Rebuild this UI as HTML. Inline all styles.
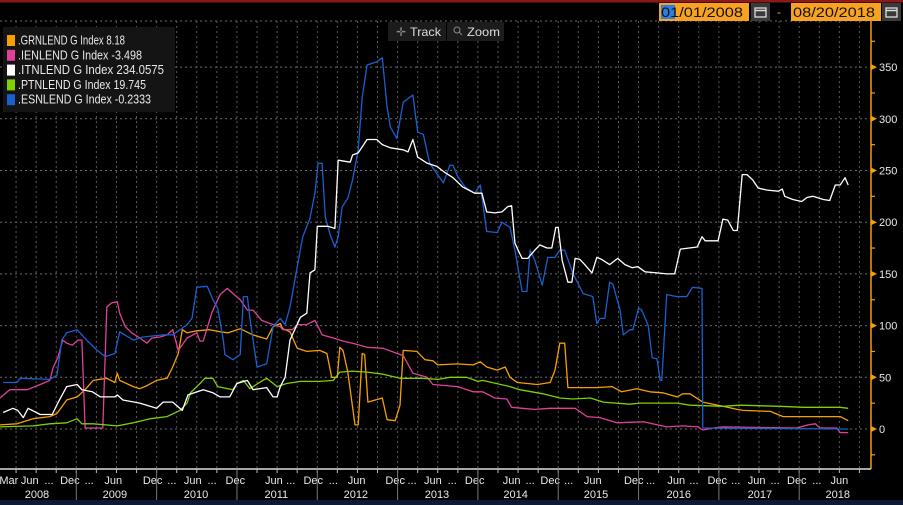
<!DOCTYPE html>
<html><head><meta charset="utf-8">
<style>
html,body{margin:0;padding:0;background:#000;}
svg{display:block;font-family:"Liberation Sans",sans-serif;}
</style></head>
<body>
<svg id="chart" width="903" height="505" viewBox="0 0 903 505" xmlns="http://www.w3.org/2000/svg">
<rect width="903" height="505" fill="#000"/>
<rect x="0" y="0" width="903" height="2.5" fill="#8a1a1a"/>
<g id="grid"></g>
<g id="series"></g>
<g id="axes"></g>
<!-- date range -->
<g>
<rect x="659" y="3" width="90" height="18" fill="#f8a223"/>
<rect x="661" y="5" width="14" height="14" fill="#2a7fe0"/>
<text x="661" y="17" font-size="14" fill="#111" textLength="82" lengthAdjust="spacingAndGlyphs">01/01/2008</text>
</g>
<g>
<rect x="751" y="3" width="19" height="18" fill="#3a3a3a"/>
<rect x="755" y="8" width="11" height="9" fill="none" stroke="#ddd" stroke-width="1.3"/>
<line x1="755" y1="10.5" x2="766" y2="10.5" stroke="#ddd" stroke-width="1.5"/>
</g>
<text x="777" y="16" font-size="12" fill="#f8a223">-</text>
<g>
<rect x="791" y="3" width="90" height="18" fill="#f8a223"/>
<text x="793" y="17" font-size="14" fill="#111" textLength="82" lengthAdjust="spacingAndGlyphs">08/20/2018</text>
</g>
<g>
<rect x="882" y="3" width="19" height="18" fill="#3a3a3a"/>
<rect x="886" y="8" width="11" height="9" fill="none" stroke="#ddd" stroke-width="1.3"/>
<line x1="886" y1="10.5" x2="897" y2="10.5" stroke="#ddd" stroke-width="1.5"/>
</g>
<!-- track / zoom -->
<g>
<rect x="388" y="22" width="58" height="19" fill="#1c1c1c"/>
<text x="396" y="36" font-size="12" fill="#888">✛</text>
<text x="410" y="36" font-size="12" fill="#ddd" textLength="31" lengthAdjust="spacingAndGlyphs">Track</text>
</g>
<g>
<rect x="447" y="22" width="57" height="19" fill="#1c1c1c"/>
<circle cx="457" cy="30" r="3" fill="none" stroke="#888" stroke-width="1"/>
<line x1="459" y1="32" x2="462" y2="35" stroke="#888"/>
<text x="467" y="36" font-size="12" fill="#ddd" textLength="33" lengthAdjust="spacingAndGlyphs">Zoom</text>
</g>
<g id="legend">
<rect x="3" y="27" width="172" height="85" fill="#141414"/>
</g>
</svg>
<script>
const ESN_DATES=[2008.09,2008.26,2008.30,2008.67,2008.76,2008.82,2008.88,2009.01,2009.13,2009.26,2009.36,2009.48,2009.54,2009.71,2009.83,2010.08,2010.20,2010.38,2010.44,2010.50,2010.63,2010.70,2010.76,2010.83,2010.85,2010.95,2011.04,2011.08,2011.13,2011.16,2011.25,2011.37,2011.45,2011.54,2011.60,2011.66,2011.75,2011.82,2011.91,2011.97,2012.01,2012.06,2012.10,2012.16,2012.22,2012.26,2012.31,2012.38,2012.44,2012.51,2012.56,2012.62,2012.74,2012.81,2012.87,2012.91,2012.99,2013.07,2013.19,2013.25,2013.32,2013.40,2013.57,2013.65,2013.69,2013.75,2013.84,2013.96,2014.03,2014.11,2014.24,2014.30,2014.40,2014.46,2014.55,2014.61,2014.65,2014.71,2014.80,2014.87,2014.96,2015.02,2015.08,2015.18,2015.31,2015.43,2015.48,2015.52,2015.58,2015.64,2015.68,2015.77,2015.81,2015.89,2015.93,2016.00,2016.04,2016.12,2016.17,2016.23,2016.27,2016.29,2016.35,2016.48,2016.60,2016.67,2016.79,2016.80,2018.61];
const ESN_VALUES=[45,45,49,48,52,86,93,96,86,76,70,73,94,86,89,91,91,101,107,137,138,125,117,86,72,67,72,128,128,108,60,63,99,107,101,118,157,186,204,228,257,257,205,188,176,186,215,223,241,270,321,352,355,359,311,292,281,316,323,287,285,257,238,255,255,244,234,228,236,191,190,200,195,173,133,133,173,163,139,166,166,173,173,151,131,128,102,107,107,142,140,115,91,96,96,117,115,100,69,68,47,47,130,128,128,137,136,1,0];
const ITN_DATES=[2008.09,2008.21,2008.27,2008.34,2008.40,2008.55,2008.70,2008.77,2008.88,2009.01,2009.07,2009.20,2009.30,2009.48,2009.51,2009.58,2009.79,2010.00,2010.08,2010.20,2010.32,2010.39,2010.58,2010.70,2010.79,2010.91,2011.00,2011.13,2011.20,2011.37,2011.45,2011.50,2011.54,2011.60,2011.66,2011.79,2011.87,2011.91,2011.97,2012.00,2012.13,2012.22,2012.26,2012.41,2012.44,2012.51,2012.62,2012.74,2012.81,2012.91,2013.07,2013.13,2013.19,2013.25,2013.37,2013.49,2013.59,2013.69,2013.81,2013.96,2014.05,2014.11,2014.21,2014.30,2014.37,2014.42,2014.46,2014.50,2014.55,2014.62,2014.71,2014.77,2014.86,2014.92,2014.97,2015.00,2015.05,2015.12,2015.17,2015.21,2015.27,2015.33,2015.42,2015.48,2015.54,2015.64,2015.74,2015.83,2015.92,2015.99,2016.08,2016.23,2016.35,2016.45,2016.52,2016.73,2016.79,2016.83,2016.99,2017.05,2017.11,2017.18,2017.23,2017.29,2017.35,2017.42,2017.49,2017.60,2017.74,2017.79,2017.82,2017.92,2018.03,2018.10,2018.17,2018.30,2018.38,2018.45,2018.51,2018.57,2018.61];
const ITN_VALUES=[16,20,18,11,20,14,14,25,41,43,38,36,31,31,33,28,25,20,26,26,18,33,38,35,31,31,44,47,38,40,31,31,41,50,86,108,112,151,154,196,196,194,260,258,265,267,280,280,275,272,270,268,280,263,257,254,248,243,234,228,228,210,209,210,215,216,180,173,165,165,173,178,175,175,195,195,163,142,142,165,164,159,151,166,164,159,165,159,156,157,152,151,150,150,174,176,186,182,182,203,202,192,192,246,246,241,233,231,230,232,225,222,220,224,225,222,221,236,236,243,236];
const IEN_DATES=[2008.05,2008.17,2008.39,2008.55,2008.67,2008.71,2008.77,2008.83,2008.88,2008.95,2009.02,2009.07,2009.11,2009.33,2009.38,2009.44,2009.51,2009.54,2009.61,2009.69,2009.79,2009.88,2009.94,2010.04,2010.13,2010.20,2010.27,2010.38,2010.50,2010.54,2010.58,2010.69,2010.79,2010.88,2010.95,2011.04,2011.13,2011.20,2011.31,2011.41,2011.54,2011.57,2011.69,2011.75,2011.87,2011.97,2012.01,2012.06,2012.20,2012.32,2012.44,2012.62,2012.82,2013.07,2013.19,2013.28,2013.37,2013.44,2013.75,2013.94,2014.06,2014.21,2014.36,2014.42,2014.55,2014.71,2014.90,2015.21,2015.36,2015.52,2015.73,2016.06,2016.35,2016.55,2016.74,2016.80,2016.93,2017.05,2017.97,2018.11,2018.20,2018.26,2018.47,2018.51,2018.61];
const IEN_VALUES=[30,38,38,43,47,59,69,86,83,81,86,86,1,1,118,122,123,112,99,93,88,83,88,89,91,96,76,88,93,85,85,113,130,136,131,125,115,115,105,102,99,96,96,101,101,105,99,91,88,85,83,79,78,71,54,52,50,43,41,36,36,30,29,21,20,19,20,20,12,11,6,7,2,3,2,-1,1,2,1,4,5,1,1,-3.5,-3.5];
const GRN_DATES=[2008.05,2008.26,2008.46,2008.67,2008.76,2008.88,2009.01,2009.11,2009.21,2009.38,2009.48,2009.51,2009.54,2009.71,2009.79,2009.88,2010.00,2010.13,2010.20,2010.27,2010.32,2010.38,2010.50,2010.66,2010.79,2010.89,2011.04,2011.20,2011.37,2011.45,2011.54,2011.57,2011.66,2011.75,2011.87,2012.03,2012.12,2012.18,2012.25,2012.28,2012.32,2012.38,2012.47,2012.51,2012.56,2012.59,2012.63,2012.81,2012.87,2012.97,2013.03,2013.07,2013.24,2013.34,2013.44,2013.50,2013.74,2013.94,2014.03,2014.11,2014.24,2014.34,2014.40,2014.49,2014.74,2014.90,2014.96,2015.02,2015.08,2015.12,2015.48,2015.67,2015.79,2015.98,2016.14,2016.30,2016.48,2016.55,2016.64,2016.80,2017.05,2017.23,2017.30,2017.64,2017.80,2018.51,2018.61];
const GRN_VALUES=[4,5,10,12,15,28,31,38,47,49,45,54,47,41,39,42,47,49,60,73,96,93,95,96,94,93,97,91,87,99,102,97,94,78,75,76,73,50,50,79,76,55,4,4,73,72,26,30,9,8,23,76,75,67,66,62,63,62,65,60,57,60,50,45,43,45,57,83,83,40,40,41,36,39,36,35,31,34,34,26,22,19,18,17,12,12,8];
const PTN_DATES=[2008.05,2008.46,2008.67,2008.88,2009.01,2009.07,2009.21,2009.51,2009.71,2009.92,2010.13,2010.29,2010.38,2010.42,2010.54,2010.60,2010.70,2010.76,2010.95,2011.00,2011.08,2011.16,2011.32,2011.37,2011.50,2011.62,2011.79,2012.03,2012.20,2012.28,2012.44,2012.62,2012.82,2013.03,2013.32,2013.50,2013.65,2013.86,2014.00,2014.06,2014.40,2014.52,2014.81,2015.02,2015.18,2015.40,2015.56,2015.89,2016.02,2016.48,2016.64,2017.05,2017.26,2017.76,2018.05,2018.51,2018.61];
const PTN_VALUES=[2,3,5,6,10,5,5,3,6,10,12,18,25,35,44,49,49,41,38,44,47,39,47,49,41,44,46,46,47,55,56,55,53,49,49,48,50,50,46,47,41,38,34,30,29,30,26,24,25,25,23,22,23,22,21,21,20];
const LEGEND_LABELS=[".GRNLEND G Index 8.18",".IENLEND G Index  -3.498",".ITNLEND G Index  234.0575",".PTNLEND G Index 19.745",".ESNLEND G Index  -0.2333"];
const Y_TICKS=[0,50,100,150,200,250,300,350];
const MONTH_LABELS=["Mar","Jun","...","Dec","...","Jun","Dec","...","Jun","...","Dec","Jun","...","Dec","...","Jun","Dec","...","Jun","...","Dec","Jun","...","Dec","...","Jun","Dec","...","Jun","...","Dec","...","Jun","...","Dec","...","Jun","...","Dec","...","Jun"];
const MONTH_DATES=[2008.16,2008.42,2008.66,2008.92,2009.16,2009.46,2009.95,2010.19,2010.45,2010.69,2010.98,2011.46,2011.67,2011.95,2012.20,2012.49,2012.97,2013.18,2013.44,2013.68,2013.96,2014.42,2014.65,2014.90,2015.13,2015.43,2015.94,2016.15,2016.47,2016.69,2016.98,2017.21,2017.47,2017.70,2017.97,2018.22,2018.50,2018.50,2018.50,2018.50,2018.50];
const YEAR_LABELS=["2008","2009","2010","2011","2012","2013","2014","2015","2016","2017","2018"];
const YEAR_DATES=[2008.51,2009.48,2010.49,2011.49,2012.48,2013.49,2014.47,2015.47,2016.50,2017.51,2018.48];

const NS="http://www.w3.org/2000/svg";
const X0=2008.05, PXY=0.01245, PLOT_R=871, PLOT_T=21, PLOT_B=469;
function xScale(yr){return (yr-X0)/PXY;}
function yScale(v){return 429-1.034*v;}
function mk(tag,attrs,parent){const e=document.createElementNS(NS,tag);for(const k in attrs)e.setAttribute(k,attrs[k]);parent.appendChild(e);return e;}

const grid=document.getElementById('grid');
for(const v of Y_TICKS){
  const l=mk('line',{x1:0,x2:PLOT_R,y1:yScale(v),y2:yScale(v),stroke:'#6a6a6a','stroke-width':1,'stroke-dasharray':'2,3'},grid);
  
  
}
const tl=mk('line',{x1:0,x2:PLOT_R,y1:PLOT_T,y2:PLOT_T,stroke:'#6a6a6a','stroke-width':1,'stroke-dasharray':'2,3'},grid);


for(let q=2008.0;q<=2018.76;q+=0.25){
  const x=xScale(q);
  if(x<1||x>PLOT_R-2)continue;
  const l=mk('line',{x1:x,x2:x,y1:PLOT_T,y2:PLOT_B,stroke:'#5a5a5a','stroke-width':1,'stroke-dasharray':'2,3'},grid);
  
  
}

const series=document.getElementById('series');
const SERIES=[
 {name:'grnlend-line',d:GRN_DATES,v:GRN_VALUES,c:'#f5a000'},
 {name:'ienlend-line',d:IEN_DATES,v:IEN_VALUES,c:'#e0409a'},
 {name:'ptnlend-line',d:PTN_DATES,v:PTN_VALUES,c:'#7fd000'},
 {name:'esnlend-line',d:ESN_DATES,v:ESN_VALUES,c:'#1a60d0'},
 {name:'itnlend-line',d:ITN_DATES,v:ITN_VALUES,c:'#ffffff'}
];
for(const s of SERIES){
  const n=Math.min(s.d.length,s.v.length);
  let pts=[];
  for(let i=0;i<n;i++)pts.push(xScale(s.d[i]).toFixed(1)+','+yScale(s.v[i]).toFixed(1));
  const p=mk('polyline',{points:pts.join(' '),fill:'none',stroke:s.c,'stroke-width':1.3,'stroke-linejoin':'round'},series);
  
  
}

const axes=document.getElementById('axes');
const ya=mk('line',{x1:PLOT_R,x2:PLOT_R,y1:PLOT_T,y2:PLOT_B,stroke:'#f5a000','stroke-width':1.5},axes);


for(const v of Y_TICKS){
  const y=yScale(v);
  const t=mk('path',{d:`M${PLOT_R} ${y-3}L${PLOT_R+6} ${y}L${PLOT_R} ${y+3}Z`,fill:'#f5a000'},axes);
  
  
  const lb=mk('text',{x:PLOT_R+8,y:y+4,'font-size':11,fill:'#e8e8e8'},axes);
  lb.textContent=String(v);
  
  
  for(const mv of [v-25]){
    const my=yScale(mv);
    if(my>PLOT_B)continue;
    const m=mk('line',{x1:PLOT_R,x2:PLOT_R+4,y1:my,y2:my,stroke:'#f5a000','stroke-width':1.2},axes);
    
    
  }
}
const m375=mk('line',{x1:PLOT_R,x2:PLOT_R+4,y1:yScale(375),y2:yScale(375),stroke:'#f5a000','stroke-width':1.2},axes);



const xa=mk('line',{x1:0,x2:PLOT_R,y1:PLOT_B,y2:PLOT_B,stroke:'#dddddd','stroke-width':1.5},axes);


for(let q=2008.0;q<=2018.76;q+=0.25){
  const x=xScale(q); if(x<1||x>PLOT_R)continue;
  const t=mk('line',{x1:x,x2:x,y1:PLOT_B,y2:PLOT_B+4,stroke:'#bbb','stroke-width':1},axes);
  
  
}
const nm=Math.min(MONTH_LABELS.length,36);
for(let i=0;i<nm;i++){
  const lb=mk('text',{x:xScale(MONTH_DATES[i]),y:484,'font-size':11,fill:'#e8e8e8','text-anchor':'middle'},axes);
  lb.textContent=MONTH_LABELS[i];
  
  
}
const lastJun=mk('text',{x:xScale(2018.50),y:484,'font-size':11,fill:'#e8e8e8','text-anchor':'middle'},axes);
lastJun.textContent='Jun';


for(let i=0;i<YEAR_LABELS.length;i++){
  const lb=mk('text',{x:xScale(YEAR_DATES[i]),y:498,'font-size':11,fill:'#e8e8e8','text-anchor':'middle'},axes);
  lb.textContent=YEAR_LABELS[i];
  
  
}
for(let yr=2009;yr<=2018;yr++){
  const x=xScale(yr);
  const s=mk('line',{x1:x,x2:x,y1:PLOT_B,y2:500,stroke:'#777','stroke-width':1},axes);
  
  
}
const nb=mk('rect',{x:0,y:500,width:903,height:5,fill:'#0d1a33'},axes);



const legend=document.getElementById('legend');
const LCOL=['#f5a000','#e0409a','#ffffff','#7fd000','#1a60d0'];
const LW=[107,124,146,128,133];
for(let i=0;i<LEGEND_LABELS.length;i++){
  const y=40+i*14.8;
  const g=mk('g',{},legend);
  
  
  mk('rect',{x:7,y:y-5,width:8,height:11,fill:LCOL[i]},g);
  const t=mk('text',{x:18,y:y+4.5,'font-size':13,fill:'#e8e8e8',textLength:LW[i],lengthAdjust:'spacingAndGlyphs','xml:space':'preserve'},g);
  t.textContent=LEGEND_LABELS[i];
}
</script>
</body></html>
